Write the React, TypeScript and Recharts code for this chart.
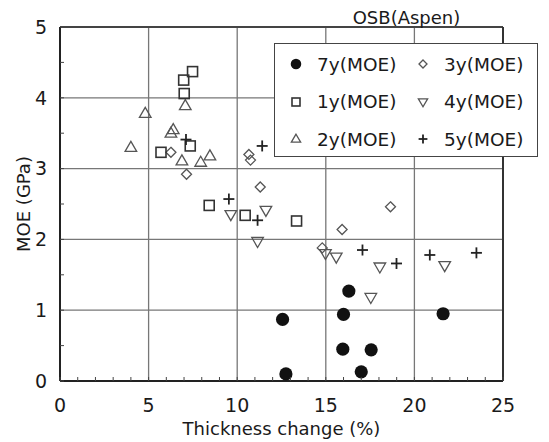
import React from "react";
import {
  ScatterChart,
  Scatter,
  XAxis,
  YAxis,
  ReferenceLine,
} from "recharts";

// [thickness change %, MOE GPa] per exposure year
const moe7y = [
  [12.56, 0.87], [12.75, 0.1], [16.3, 1.27], [16.0, 0.94],
  [15.96, 0.45], [17.56, 0.44], [17.0, 0.13], [21.62, 0.95],
];
const moe1y = [
  [7.48, 4.37], [6.98, 4.25], [7.01, 4.06], [5.7, 3.23],
  [7.35, 3.32], [8.42, 2.48], [10.45, 2.34], [13.35, 2.26],
];
const moe2y = [
  [4.0, 3.3], [4.81, 3.78], [6.26, 3.5], [6.39, 3.55],
  [6.88, 3.11], [7.07, 3.89], [7.94, 3.09], [8.46, 3.18],
];
const moe3y = [
  [6.26, 3.23], [7.14, 2.92], [10.66, 3.2], [10.75, 3.12],
  [11.3, 2.74], [18.65, 2.46], [15.92, 2.14], [14.8, 1.88],
];
const moe4y = [
  [9.64, 2.35], [11.62, 2.41], [11.15, 1.97], [14.98, 1.8],
  [15.59, 1.75], [18.05, 1.61], [17.54, 1.18], [21.71, 1.63],
];
const moe5y = [
  [7.11, 3.41], [11.41, 3.32], [9.53, 2.57], [11.15, 2.27],
  [17.07, 1.85], [18.99, 1.66], [20.87, 1.78], [23.5, 1.81],
];

const xTicks = Array.from({ length: 26 }, (_, i) => i);
const yTicks = Array.from({ length: 11 }, (_, i) => i / 2);
const gridX = [5, 10, 15, 20];
const gridY = [1, 2, 3, 4];

const FONT = "'DejaVu Sans', sans-serif";
const toPts = (arr: number[][]) => arr.map(([x, y]) => ({ x, y }));

type Mark = "dot" | "square" | "up" | "diamond" | "down" | "plus";

function Symbol({ kind, cx, cy, s = 1 }: { kind: Mark; cx: number; cy: number; s?: number }) {
  switch (kind) {
    case "dot":
      return <circle cx={cx} cy={cy} r={6.6 * s} fill="#111" />;
    case "square":
      return <rect x={cx - 5 * s} y={cy - 5 * s} width={10 * s} height={10 * s} fill="none" stroke="#333" strokeWidth={1.6} />;
    case "up":
      return (
        <polygon
          points={`${cx},${cy - 6 * s} ${cx - 5.8 * s},${cy + 4 * s} ${cx + 5.8 * s},${cy + 4 * s}`}
          fill="none" stroke="#555" strokeWidth={1.3}
        />
      );
    case "down":
      return (
        <polygon
          points={`${cx - 5.8 * s},${cy - 4 * s} ${cx + 5.8 * s},${cy - 4 * s} ${cx},${cy + 6 * s}`}
          fill="none" stroke="#555" strokeWidth={1.3}
        />
      );
    case "diamond":
      return (
        <polygon
          points={`${cx},${cy - 5 * s} ${cx + 5 * s},${cy} ${cx},${cy + 5 * s} ${cx - 5 * s},${cy}`}
          fill="none" stroke="#555" strokeWidth={1.3}
        />
      );
    default:
      return (
        <g stroke="#222" strokeWidth={1.8}>
          <line x1={cx - 5.5 * s} x2={cx + 5.5 * s} y1={cy} y2={cy} />
          <line x1={cx} x2={cx} y1={cy - 5.5 * s} y2={cy + 5.5 * s} />
        </g>
      );
  }
}

const series: { name: string; kind: Mark; data: number[][] }[] = [
  { name: "3y(MOE)", kind: "diamond", data: moe3y },
  { name: "4y(MOE)", kind: "down", data: moe4y },
  { name: "2y(MOE)", kind: "up", data: moe2y },
  { name: "1y(MOE)", kind: "square", data: moe1y },
  { name: "5y(MOE)", kind: "plus", data: moe5y },
  { name: "7y(MOE)", kind: "dot", data: moe7y },
];

const legendRows: [Mark, string][][] = [
  [["dot", "7y(MOE)"], ["diamond", "3y(MOE)"]],
  [["square", "1y(MOE)"], ["down", "4y(MOE)"]],
  [["up", "2y(MOE)"], ["plus", "5y(MOE)"]],
];

const XTick = (props: any) => {
  const { x, y, payload } = props;
  const v = payload.value;
  return (
    <g>
      <line x1={x} x2={x} y1={y} y2={y - 4} stroke="#444" strokeWidth={1} />
      {v % 5 === 0 && (
        <text x={x} y={y + 31} textAnchor="middle" fontFamily={FONT} fontSize={19} fill="#1a1a1a">
          {v}
        </text>
      )}
    </g>
  );
};

const YTick = (props: any) => {
  const { x, y, payload } = props;
  const v = payload.value;
  return (
    <g>
      <line x1={x} x2={x + 4} y1={y} y2={y} stroke="#444" strokeWidth={1} />
      {Number.isInteger(v) && (
        <text x={x - 13} y={y} dy="0.36em" textAnchor="end" fontFamily={FONT} fontSize={19} fill="#1a1a1a">
          {v}
        </text>
      )}
    </g>
  );
};

export default function App() {
  return (
    <div style={{ position: "absolute", left: 0, top: 0, width: 549, height: 442, background: "#fff" }}>
      <ScatterChart width={549} height={442} margin={{ top: 27, right: 46, bottom: 3, left: 0 }}>
        <XAxis
          type="number"
          dataKey="x"
          domain={[0, 25]}
          ticks={xTicks}
          interval={0}
          tick={<XTick />}
          tickLine={false}
          tickSize={0}
          tickMargin={0}
          height={58}
          axisLine={{ stroke: "#222", strokeWidth: 2 }}
          label={{
            value: "Thickness change (%)",
            position: "insideBottom",
            offset: 4,
            fontFamily: FONT,
            fontSize: 18,
            fill: "#1a1a1a",
          }}
        />
        <YAxis
          type="number"
          dataKey="y"
          domain={[0, 5]}
          ticks={yTicks}
          interval={0}
          tick={<YTick />}
          tickLine={false}
          tickSize={0}
          tickMargin={0}
          width={60}
          axisLine={{ stroke: "#222", strokeWidth: 2 }}
          label={(p: any) => {
            const vb = p.viewBox;
            const cx = vb.x + 24;
            const cy = vb.y + vb.height / 2;
            return (
              <text
                x={cx}
                y={cy}
                dy="0.36em"
                textAnchor="middle"
                transform={`rotate(-90, ${cx}, ${cy})`}
                fontFamily={FONT}
                fontSize={18}
                fill="#1a1a1a"
              >
                MOE (GPa)
              </text>
            );
          }}
        />
        {gridX.map((v) => (
          <ReferenceLine key={`gx${v}`} x={v} stroke="#777" strokeWidth={1.3} />
        ))}
        {gridY.map((v) => (
          <ReferenceLine key={`gy${v}`} y={v} stroke="#777" strokeWidth={1.3} />
        ))}
        <ReferenceLine y={5} stroke="#444" strokeWidth={1.8} />
        <ReferenceLine x={25} stroke="#333" strokeWidth={2} />
        {series.map((s) => (
          <Scatter
            key={s.name}
            name={s.name}
            data={toPts(s.data)}
            isAnimationActive={false}
            shape={(p: any) => <Symbol kind={s.kind} cx={p.cx} cy={p.cy} />}
          />
        ))}
      </ScatterChart>
      <div
        style={{
          position: "absolute",
          left: 350,
          top: 8,
          width: 113,
          textAlign: "center",
          fontFamily: FONT,
          fontSize: 18,
          color: "#1a1a1a",
          whiteSpace: "nowrap",
          lineHeight: "20px",
        }}
      >
        OSB(Aspen)
      </div>
      <div
        style={{
          position: "absolute",
          left: 274,
          top: 43,
          width: 264,
          height: 114,
          boxSizing: "border-box",
          border: "1.6px solid #444",
          background: "#fff",
        }}
      >
        {legendRows.map((row, ri) =>
          row.map(([kind, label], ci) => (
            <div
              key={label}
              style={{
                position: "absolute",
                left: ci === 0 ? 10 : 137,
                top: 8 + ri * 37.5,
                height: 24,
                display: "flex",
                alignItems: "center",
                fontFamily: FONT,
                fontSize: 18.5,
                color: "#1a1a1a",
                whiteSpace: "nowrap",
              }}
            >
              <svg width={22} height={24} style={{ marginRight: 10 }}>
                <Symbol kind={kind} cx={11} cy={12} s={0.8} />
              </svg>
              {label}
            </div>
          ))
        )}
      </div>
    </div>
  );
}
